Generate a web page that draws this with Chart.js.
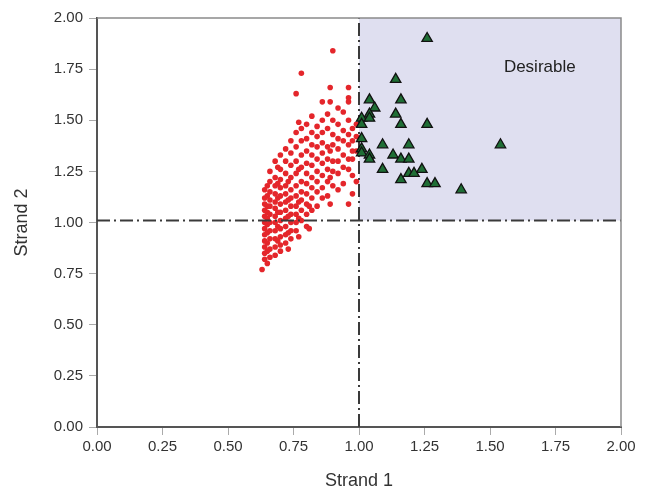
<!DOCTYPE html>
<html>
<head>
<meta charset="utf-8">
<script src="https://cdn.jsdelivr.net/npm/chart.js@4"></script>
<style>
    html, body { margin: 0; padding: 0; background: #ffffff; }
    #wrap { width: 646px; height: 492px; }
</style>
</head>
<body>
<div id="wrap"><canvas id="strandChart" width="646" height="492"></canvas></div>
<script>
// Axis ticks
const xTicks = [0, 0.25, 0.5, 0.75, 1, 1.25, 1.5, 1.75, 2];
const yTicks = [0, 0.25, 0.5, 0.75, 1, 1.25, 1.5, 1.75, 2];

// Threshold lines and desirable zone
const cutX = 1.0;
const cutY = 1.01;
const zoneLabel = 'Desirable';
const zoneLabelPos = [1.69, 1.76];

// Red dots, stored column by column (x value -> list of y values)
const redColX = [0.63, 0.64, 0.65, 0.66, 0.68, 0.69, 0.70, 0.72, 0.73, 0.74, 0.76, 0.77, 0.78,
    0.80, 0.81, 0.82, 0.84, 0.86, 0.88, 0.89, 0.90, 0.92, 0.94, 0.96, 0.975, 0.99];
const redColY = [
    [0.77],
    [0.82, 0.85, 0.88, 0.91, 0.94, 0.97, 1.00, 1.03, 1.06, 1.09, 1.12, 1.16],
    [0.80, 0.86, 0.90, 0.95, 0.99, 1.02, 1.05, 1.08, 1.13, 1.18],
    [0.83, 0.87, 0.92, 0.96, 1.00, 1.04, 1.08, 1.11, 1.15, 1.20, 1.25],
    [0.84, 0.88, 0.92, 0.96, 1.00, 1.03, 1.07, 1.10, 1.14, 1.18, 1.22, 1.30],
    [0.91, 0.98, 1.05, 1.12, 1.19, 1.27],
    [0.86, 0.89, 0.93, 0.97, 1.01, 1.05, 1.09, 1.13, 1.17, 1.21, 1.26, 1.33],
    [0.90, 0.94, 0.98, 1.02, 1.06, 1.10, 1.14, 1.18, 1.24, 1.30, 1.36],
    [0.87, 0.95, 1.03, 1.11, 1.20],
    [0.92, 0.96, 1.00, 1.04, 1.08, 1.12, 1.16, 1.22, 1.28, 1.34, 1.40],
    [0.96, 1.00, 1.04, 1.08, 1.13, 1.18, 1.24, 1.30, 1.37, 1.44, 1.63],
    [0.93, 1.02, 1.10, 1.26, 1.49],
    [1.01, 1.06, 1.11, 1.15, 1.20, 1.27, 1.33, 1.40, 1.46, 1.73],
    [0.98, 1.04, 1.09, 1.14, 1.19, 1.24, 1.29, 1.35, 1.41, 1.48],
    [0.97, 1.08],
    [1.06, 1.12, 1.17, 1.22, 1.28, 1.33, 1.38, 1.44, 1.52],
    [1.08, 1.15, 1.20, 1.25, 1.31, 1.37, 1.42, 1.47],
    [1.12, 1.17, 1.23, 1.29, 1.34, 1.39, 1.44, 1.50, 1.59],
    [1.13, 1.20, 1.26, 1.31, 1.37, 1.46, 1.53],
    [1.09, 1.22, 1.35, 1.59, 1.66],
    [1.18, 1.25, 1.30, 1.38, 1.43, 1.50, 1.84],
    [1.16, 1.24, 1.30, 1.36, 1.41, 1.48, 1.56],
    [1.19, 1.27, 1.33, 1.40, 1.45, 1.54],
    [1.09, 1.26, 1.31, 1.38, 1.43, 1.50, 1.59, 1.61, 1.66],
    [1.14, 1.23, 1.31, 1.35, 1.40, 1.46],
    [1.20, 1.35, 1.42, 1.48]
];

// Green triangles (desirable samples)
const greenX = [1.26, 1.14, 1.04, 1.16, 1.06, 1.04, 1.01, 1.04, 1.14, 1.16, 1.26, 1.01, 1.01,
    1.09, 1.19, 1.54, 1.01, 1.01, 1.04, 1.04, 1.13, 1.16, 1.19, 1.09, 1.24, 1.19, 1.21, 1.16,
    1.26, 1.29, 1.39];
const greenY = [1.90, 1.70, 1.60, 1.60, 1.56, 1.53, 1.51, 1.51, 1.53, 1.48, 1.48, 1.48, 1.41,
    1.38, 1.38, 1.38, 1.36, 1.34, 1.33, 1.31, 1.33, 1.31, 1.31, 1.26, 1.26, 1.24, 1.24, 1.21,
    1.19, 1.19, 1.16];

const FONT = "'Liberation Sans Narrow', 'Liberation Sans', Arial, sans-serif";

// build point lists from the arrays above
const redPoints = [];
redColX.forEach((x, i) => {
    redColY[i].forEach(y => redPoints.push({ x: x, y: y }));
});
const greenPoints = greenX.map((x, i) => ({ x: x, y: greenY[i] }));

// shaded zone, frame and label
const zonePlugin = {
    id: 'zone',
    beforeDatasetsDraw(chart) {
        const { ctx, scales: { x, y } } = chart;
        const left = x.getPixelForValue(cutX);
        const right = x.getPixelForValue(x.max);
        const top = y.getPixelForValue(y.max);
        const bottom = y.getPixelForValue(cutY);
        ctx.save();
        ctx.fillStyle = '#dfdff0';
        ctx.fillRect(left, top, right - left, bottom - top);
        ctx.fillStyle = '#222222';
        ctx.font = '17px ' + FONT;
        ctx.textAlign = 'center';
        ctx.textBaseline = 'middle';
        ctx.fillText(zoneLabel, x.getPixelForValue(zoneLabelPos[0]), y.getPixelForValue(zoneLabelPos[1]));
        ctx.restore();
    },
    afterDraw(chart) {
        const { ctx, chartArea: a } = chart;
        ctx.save();
        ctx.strokeStyle = '#8a8a8a';
        ctx.lineWidth = 1.5;
        ctx.beginPath();
        ctx.moveTo(a.left, a.top);
        ctx.lineTo(a.right, a.top);
        ctx.lineTo(a.right, a.bottom);
        ctx.stroke();
        ctx.restore();
    }
};

const dashDot = [13, 4, 2, 4];

new Chart(document.getElementById('strandChart'), {
    type: 'scatter',
    data: {
        datasets: [
            {
                label: 'Desirable',
                data: greenPoints,
                pointStyle: 'triangle',
                pointRadius: 6,
                backgroundColor: '#1f6e35',
                borderColor: '#111111',
                borderWidth: 1.3
            },
            {
                type: 'line',
                label: 'cutX',
                data: [{ x: cutX, y: 0 }, { x: cutX, y: 2 }],
                borderColor: '#3a3a3a',
                borderWidth: 2,
                borderDash: dashDot,
                pointRadius: 0,
                fill: false
            },
            {
                type: 'line',
                label: 'cutY',
                data: [{ x: 0, y: cutY }, { x: 2, y: cutY }],
                borderColor: '#3a3a3a',
                borderWidth: 2,
                borderDash: dashDot,
                pointRadius: 0,
                fill: false
            },
            {
                label: 'Other',
                data: redPoints,
                pointRadius: 2.8,
                backgroundColor: '#e4262b',
                borderColor: '#e4262b',
                borderWidth: 0
            }
        ]
    },
    options: {
        responsive: false,
        animation: false,
        layout: { padding: { left: 0, right: 25, top: 18, bottom: 0 } },
        plugins: {
            legend: { display: false },
            tooltip: { enabled: false }
        },
        scales: {
            x: {
                type: 'linear',
                min: 0,
                max: 2,
                afterBuildTicks: s => { s.ticks = xTicks.map(v => ({ value: v })); },
                afterFit: s => { s.height = 65; },
                ticks: {
                    callback: v => v.toFixed(2),
                    color: '#333333',
                    font: { family: FONT, size: 15 },
                    padding: 3,
                    maxRotation: 0
                },
                grid: { drawOnChartArea: false, drawTicks: true, tickLength: 8, color: '#aaaaaa' },
                border: { display: true, color: '#555555', width: 2 },
                title: {
                    display: true,
                    text: 'Strand 1',
                    color: '#333333',
                    font: { family: FONT, size: 18 },
                    padding: { top: 0, bottom: 0 }
                }
            },
            y: {
                type: 'linear',
                min: 0,
                max: 2,
                afterBuildTicks: s => { s.ticks = yTicks.map(v => ({ value: v })); },
                afterFit: s => { s.width = 97; },
                ticks: {
                    callback: v => v.toFixed(2),
                    color: '#333333',
                    font: { family: FONT, size: 15 },
                    padding: 6
                },
                grid: { drawOnChartArea: false, drawTicks: true, tickLength: 8, color: '#aaaaaa' },
                border: { display: true, color: '#555555', width: 2 },
                title: {
                    display: true,
                    text: 'Strand 2',
                    color: '#333333',
                    font: { family: FONT, size: 18 },
                    padding: { top: 11, bottom: 0 }
                }
            }
        }
    },
    plugins: [zonePlugin]
});
</script>
</body>
</html>
